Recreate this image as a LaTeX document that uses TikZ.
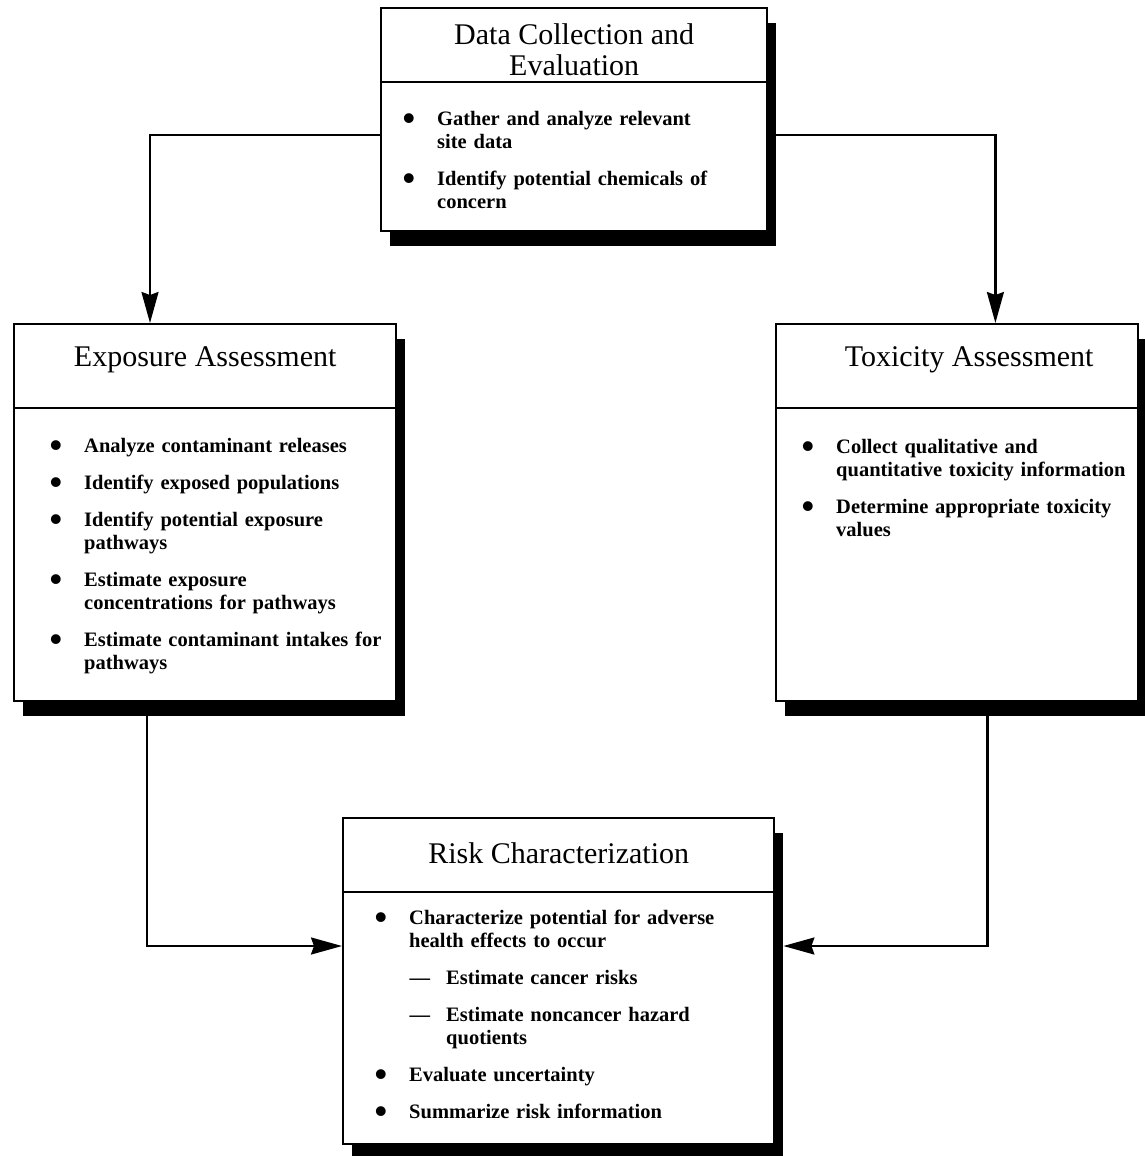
\documentclass[tikz,border=0pt]{standalone}
\usepackage{fontspec}
\setmainfont{Liberation Serif}
\usetikzlibrary{positioning, arrows.meta, shadows}

\newcommand{\dotmark}{\raisebox{-5pt}{\fontsize{36}{36}\selectfont\textbullet}}
\newenvironment{dotlist}{\begin{list}{\dotmark}{%
  \setlength{\leftmargin}{36pt}\setlength{\labelwidth}{14pt}%
  \setlength{\labelsep}{22pt}\setlength{\itemsep}{14pt}%
  \setlength{\parsep}{0pt}\setlength{\topsep}{0pt}\setlength{\partopsep}{0pt}}}%
  {\end{list}}
\newenvironment{dashlist}{\begin{list}{---}{%
  \setlength{\leftmargin}{37pt}\setlength{\labelwidth}{21pt}%
  \setlength{\labelsep}{16pt}\setlength{\itemsep}{14pt}%
  \setlength{\parsep}{0pt}\setlength{\topsep}{14pt}\setlength{\partopsep}{0pt}}}%
  {\end{list}}

\begin{document}
\begin{tikzpicture}[x=1pt, y=-1pt,
  stage/.style={draw, line width=2.4pt, fill=white, anchor=north west, inner sep=0pt,
    drop shadow={shadow xshift=9pt, shadow yshift=-15pt, fill=black, opacity=1}},
  heading/.style={font={\fontsize{30}{31}\selectfont}, align=center, inner sep=0pt},
  points/.style={anchor=north west, inner sep=0pt, align=left, text width=380pt,
    font={\bfseries\fontsize{20.5}{23}\selectfont}},
  divider/.style={line width=2.4pt},
  arr/.style={-{Stealth[length=31pt, width=17pt, inset=3pt]}, line width=2.2pt},
]
\useasboundingbox (0,0) rectangle (1144,1156);

% Stages
\node[stage, minimum width=386pt, minimum height=223pt] (data) at (380,7) {};
\node[stage, minimum width=382pt, minimum height=377pt] (expo) at (13,323) {};
\node[stage, minimum width=362pt, minimum height=377pt] (toxic) at (775,323) {};
\node[stage, minimum width=431pt, minimum height=326pt] (risk) at (342,817) {};

% Title rules
\draw[divider] ([yshift=-75pt]data.north west) -- ([yshift=-75pt]data.north east);
\draw[divider] ([yshift=-85pt]expo.north west) -- ([yshift=-85pt]expo.north east);
\draw[divider] ([yshift=-85pt]toxic.north west) -- ([yshift=-85pt]toxic.north east);
\draw[divider] ([yshift=-75pt]risk.north west) -- ([yshift=-75pt]risk.north east);

% Titles
\node[heading] (datatitle) at ([yshift=-43pt]data.north) {Data Collection and\\Evaluation};
\node[heading] (expotitle) at ([yshift=-37pt]expo.north) {Exposure Assessment};
\node[heading] (toxictitle) at ([xshift=12pt, yshift=-37pt]toxic.north) {Toxicity Assessment};
\node[heading] (risktitle) at ([yshift=-36pt]risk.north) {Risk Characterization};

% Task lists
\node[points] (datapoints) at ([xshift=21pt, yshift=-95pt]data.north west) {%
  \begin{dotlist}
  \item Gather and analyze relevant\\site data
  \item Identify potential chemicals of\\concern
  \end{dotlist}};
\node[points] (expopoints) at ([xshift=35pt, yshift=-106pt]expo.north west) {%
  \begin{dotlist}
  \item Analyze contaminant releases
  \item Identify exposed populations
  \item Identify potential exposure\\pathways
  \item Estimate exposure\\concentrations for pathways
  \item Estimate contaminant intakes for\\pathways
  \end{dotlist}};
\node[points] (toxicpoints) at ([xshift=25pt, yshift=-107pt]toxic.north west) {%
  \begin{dotlist}
  \item Collect qualitative and\\quantitative toxicity information
  \item Determine appropriate toxicity\\values
  \end{dotlist}};
\node[points] (riskpoints) at ([xshift=31pt, yshift=-84pt]risk.north west) {%
  \begin{dotlist}
  \item Characterize potential for adverse\\health effects to occur
    \begin{dashlist}
    \item Estimate cancer risks
    \item Estimate noncancer hazard\\quotients
    \end{dashlist}
  \item Evaluate uncertainty
  \item Summarize risk information
  \end{dotlist}};

% Arrows
\draw[arr] ([yshift=-128pt]data.north west) -| ([xshift=137pt]expo.north west);
\draw[arr] ([yshift=-128pt]data.north east) -| ([xshift=-144pt]toxic.north east);
\draw[arr] ([xshift=134pt]expo.south west) |- ([yshift=-129pt]risk.north west);
\draw[arr] ([xshift=-152pt]toxic.south east) |- ([xshift=8pt, yshift=-129pt]risk.north east);
\end{tikzpicture}
\end{document}
